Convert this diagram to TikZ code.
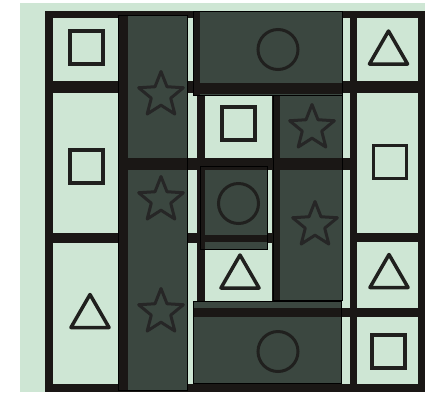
\documentclass[tikz,border=0pt]{standalone}
\usetikzlibrary{shapes.geometric}
\definecolor{lgreen}{RGB}{206,230,212}
\definecolor{dk}{RGB}{59,71,64}
\definecolor{ln}{RGB}{26,23,21}
\definecolor{sym}{RGB}{32,32,30}
\begin{document}
\begin{tikzpicture}[x=1pt,y=-1pt,
  gl/.style={fill=ln},
  dbox/.style={fill=dk},
  dedge/.style={draw=black,line width=1pt},
  sq/.style={draw=sym,line width=3.5pt,rectangle,minimum size=33pt,inner sep=0pt},
  tri/.style={draw=sym,line width=3.5pt,regular polygon,regular polygon sides=3,minimum size=44pt,inner sep=0pt,line join=round},
  cir/.style={draw=sym,line width=3pt,circle,minimum size=40pt,inner sep=0pt},
  str/.style={draw=black!85,line width=3pt,star,star points=5,star point ratio=2.3,minimum size=47pt,inner sep=0pt,line join=round}]
\useasboundingbox (0,0) rectangle (425,392);
\fill[white] (0,0) rectangle (425,392);
\fill[lgreen] (20,3) rectangle (425,392);
% frame
\fill[gl] (45,11) rectangle (425,18);
\fill[gl] (45,11) rectangle (53,392);
\fill[gl] (45,384) rectangle (425,392);
\fill[gl] (418,11) rectangle (425,392);
% vertical grid lines
\fill[gl] (119,11) rectangle (128,392);
\fill[gl] (197,11) rectangle (205,392);
\fill[gl] (272,81) rectangle (280,317);
\fill[gl] (350,11) rectangle (357,392);
% horizontal grid lines
\fill[gl] (45,81) rectangle (425,93);
\fill[gl] (119,158) rectangle (357,170);
\fill[gl] (45,233) rectangle (272,243);
\fill[gl] (350,233) rectangle (425,242);
\fill[gl] (197,308) rectangle (425,317);
% dark column B
\fill[dbox] (118,15) rectangle (187,390);
\fill[gl] (118,15) rectangle (128,390);
\fill[gl] (118,158) rectangle (187,170);
\draw[dedge] (118,15) rectangle (187,390);
% top dark box
\fill[dbox] (193,11) rectangle (342,95);
\fill[gl] (193,11) rectangle (200,95);
\fill[gl] (193,83) rectangle (342,94);
\draw[dedge] (193,11) rectangle (342,95);
% dark box column D
\fill[dbox] (273,95) rectangle (342,300);
\fill[gl] (273,95) rectangle (280,300);
\fill[gl] (273,158) rectangle (342,170);
\draw[dedge] (273,95) rectangle (342,300);
% middle circle box
\fill[dbox] (200,166) rectangle (267,249);
\fill[gl] (200,166) rectangle (205,249);
\fill[gl] (200,166) rectangle (267,170);
\fill[gl] (200,235) rectangle (267,242);
\draw[dedge] (200,166) rectangle (267,249);
% bottom dark box
\fill[dbox] (193,301) rectangle (341,383);
\fill[gl] (193,308) rectangle (341,317);
\draw[dedge] (193,301) rectangle (341,383);
% squares
\node[sq] (sqA1) at (86.5,47.5) {};
\node[sq] (sqA2) at (86.5,166.5) {};
\node[sq] (sqC2) at (238.5,123.5) {};
\node[sq] (sqE2) at (390,162) {};
\node[sq] (sqE5) at (388.5,351.5) {};
% triangles
\node[tri] (trE1) at (388.5,53) {};
\node[tri] (trA4) at (90,316.5) {};
\node[tri] (trC4) at (240,277) {};
\node[tri] (trE4) at (389,276.5) {};
% circles
\node[cir] (ciTop) at (278,49.5) {};
\node[cir] (ciMid) at (238.5,203.5) {};
\node[cir] (ciBot) at (278,351.5) {};
% stars
\node[str] (stB1) at (161,95) {};
\node[str] (stB2) at (161,200) {};
\node[str] (stB3) at (161,312) {};
\node[str] (stD2) at (312,128) {};
\node[str] (stD3) at (315,225) {};
\end{tikzpicture}
\end{document}
